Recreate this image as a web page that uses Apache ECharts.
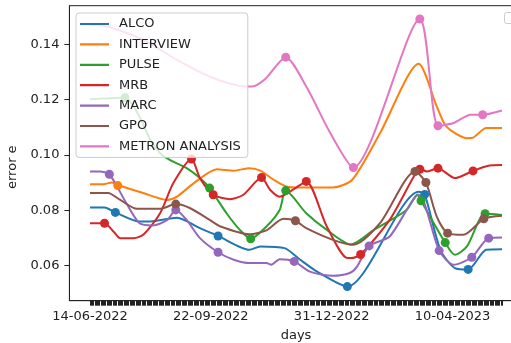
<!DOCTYPE html>
<html><head><meta charset="utf-8">
<script src="https://cdn.jsdelivr.net/npm/echarts@6/dist/echarts.min.js"></script>
<style>html,body{margin:0;padding:0;background:#fff}#c{width:511px;height:343px}</style>
</head><body><div id="c"></div>
<script>
// ---- data ----
const startDate = '2022-06-14';
const lastDay = 341;
const tickLabels = ['14-06-2022', '22-09-2022', '31-12-2022', '10-04-2023'];
const yTicks = [0.06, 0.08, 0.10, 0.12, 0.14];
const seriesNames = ['ALCO', 'INTERVIEW', 'PULSE', 'MRB', 'MARC', 'GPO', 'METRON ANALYSIS'];
const colors = ['#1f77b4', '#ff7f0e', '#2ca02c', '#d62728', '#9467bd', '#8c564b', '#e377c2'];

// [day since startDate, error e]
const alcoLine = [[0,0.0810],[12,0.0810],[21,0.0792],[41,0.0759],[50,0.0759],[72,0.0773],[91,0.0735],[106,0.0707],[132,0.0657],[141,0.0669],[161,0.0663],[174,0.0621],[188,0.0578],[213,0.0524],[272,0.0867],[277,0.0857],[290,0.0657],[302,0.0591],[313,0.0586],[328,0.0657],[341,0.0659]];
const alcoPts = [[21,0.0792],[106,0.0707],[213,0.0524],[277,0.0857],[313,0.0586]];

const interviewLine = [[0,0.0894],[11,0.0894],[18,0.0900],[23,0.0891],[44,0.0862],[64,0.0837],[72,0.0849],[86,0.0898],[105,0.0948],[119,0.0943],[132,0.0952],[141,0.0943],[152,0.0910],[163,0.0885],[174,0.0882],[201,0.0882],[217,0.0910],[240,0.1078],[272,0.1329],[287,0.1175],[295,0.1102],[312,0.1060],[317,0.1062],[328,0.1097],[341,0.1097]];
const interviewPts = [[23,0.0889]];

const pulseLine = [[0,0.1201],[17,0.1205],[29,0.1207],[41,0.1138],[50,0.1054],[58,0.1006],[66,0.0982],[80,0.0952],[91,0.0916],[99,0.0880],[113,0.0789],[124,0.0729],[133,0.0697],[146,0.0741],[157,0.0801],[162,0.0871],[179,0.0789],[196,0.0729],[216,0.0676],[235,0.0729],[262,0.0801],[271,0.0857],[274,0.0834],[294,0.0683],[302,0.0639],[312,0.0669],[327,0.0787],[341,0.0783]];
const pulsePts = [[29,0.1207],[99,0.0880],[133,0.0697],[162,0.0871],[274,0.0834],[294,0.0683],[327,0.0787]];

const mrbLine = [[0,0.0753],[12,0.0753],[20,0.0720],[25,0.0699],[36,0.0699],[44,0.0711],[58,0.0789],[69,0.0898],[84,0.0985],[91,0.0916],[102,0.0856],[116,0.0840],[127,0.0856],[142,0.0918],[149,0.0874],[157,0.0849],[168,0.0874],[179,0.0904],[196,0.0741],[213,0.0627],[216,0.0627],[224,0.0640],[248,0.0765],[268,0.0922],[273,0.0948],[279,0.0940],[288,0.0952],[302,0.0916],[317,0.0942],[329,0.0960],[341,0.0963]];
const mrbPts = [[12,0.0753],[84,0.0985],[102,0.0856],[142,0.0918],[179,0.0904],[224,0.0640],[273,0.0948],[288,0.0952],[317,0.0942]];

const marcLine = [[0,0.0940],[8,0.0940],[16,0.0930],[30,0.0826],[41,0.0753],[52,0.0745],[64,0.0765],[71,0.0801],[80,0.0765],[91,0.0699],[106,0.0648],[119,0.0621],[132,0.0609],[146,0.0609],[150,0.0603],[157,0.0623],[169,0.0615],[182,0.0578],[201,0.0563],[215,0.0573],[221,0.0596],[231,0.0671],[248,0.0705],[272,0.0856],[289,0.0654],[301,0.0603],[316,0.0630],[330,0.0699],[341,0.0701]];
const marcPts = [[16,0.0930],[71,0.0801],[106,0.0648],[169,0.0615],[231,0.0671],[289,0.0654],[316,0.0630],[330,0.0699]];

const gpoLine = [[0,0.0862],[15,0.0862],[25,0.0837],[39,0.0805],[58,0.0805],[71,0.0822],[83,0.0807],[99,0.0765],[108,0.0741],[132,0.0713],[146,0.0727],[160,0.0769],[170,0.0762],[179,0.0735],[201,0.0693],[218,0.0675],[240,0.0753],[269,0.0940],[278,0.0900],[287,0.0777],[296,0.0717],[309,0.0711],[326,0.0769],[341,0.0780]];
const gpoPts = [[71,0.0822],[170,0.0762],[269,0.0940],[278,0.0900],[296,0.0717],[326,0.0769]];

const metronLine = [[0,0.1470],[14,0.1464],[44,0.1416],[72,0.1343],[99,0.1283],[124,0.1249],[134,0.1247],[145,0.1274],[162,0.1353],[179,0.1247],[199,0.1078],[218,0.0954],[273,0.1491],[288,0.1105],[301,0.1115],[315,0.1145],[325,0.1145],[341,0.1160]];
const metronPts = [[162,0.1353],[218,0.0954],[273,0.1491],[288,0.1105],[325,0.1145]];

const lines = [alcoLine, interviewLine, pulseLine, mrbLine, marcLine, gpoLine, metronLine];
const points = [alcoPts, interviewPts, pulsePts, mrbPts, marcPts, gpoPts, metronPts];

// ---- build ----
const DAY = 86400000;
const t0 = Date.parse(startDate + 'T00:00:00Z');
function dayOf(lbl) { const p = lbl.split('-'); return Math.round((Date.parse(p[2] + '-' + p[1] + '-' + p[0] + 'T00:00:00Z') - t0) / DAY); }
const labelDays = tickLabels.map(dayOf);
const labelMap = {}; labelDays.forEach((d, i) => labelMap[d] = tickLabels[i]);
const allDays = []; for (let d = 0; d <= lastDay; d++) allDays.push(d);
const margin = lastDay * 0.05;
const FONT = 'DejaVu Sans';
const legendIcon = 'path://M0,0H29V2H0Z M34,0L34,2';

const series = [];
seriesNames.forEach((n, i) => {
  series.push({ name: n, type: 'line', data: lines[i], symbol: 'none', smooth: 0.25,
    lineStyle: { width: 2, color: colors[i] }, itemStyle: { color: colors[i] }, z: 2 + i * 0.01 });
});
seriesNames.forEach((n, i) => {
  series.push({ name: n + ' points', type: 'scatter', data: points[i], symbol: 'circle', symbolSize: 9,
    itemStyle: { color: colors[i], opacity: 1 }, z: 3 + i * 0.01 });
});

const chart = echarts.init(document.getElementById('c'), null, { renderer: 'canvas' });
chart.setOption({
  animation: false,
  backgroundColor: '#fff',
  grid: { left: 69.4, top: 5.7, width: 453.2, height: 295, containLabel: false, outerBoundsMode: 'none',
    show: true, borderColor: '#222', borderWidth: 1, backgroundColor: 'transparent' },
  legend: {
    data: seriesNames.map((n, i) => ({ name: n, icon: legendIcon, itemStyle: { color: colors[i] } })),
    orient: 'vertical', left: 76, top: 13,
    backgroundColor: 'rgba(255,255,255,0.8)', borderColor: '#ccc', borderWidth: 1, borderRadius: 3,
    padding: [4, 7, 4, 4], itemWidth: 34, itemHeight: 2.2, itemGap: 6.4, symbolKeepAspect: false,
    textStyle: { fontFamily: FONT, fontSize: 13, color: '#222', lineHeight: 14 },
    z: 10
  },
  xAxis: {
    type: 'value', min: -margin, max: lastDay + margin,
    name: 'days', nameLocation: 'middle', nameGap: 28,
    nameTextStyle: { fontFamily: FONT, fontSize: 13, color: '#222' },
    axisLine: { show: true, onZero: false, lineStyle: { color: '#222', width: 1 } },
    axisTick: { show: true, length: 5, customValues: allDays, lineStyle: { color: '#222', width: 1 } },
    axisLabel: { customValues: labelDays, margin: 9, fontFamily: FONT, fontSize: 13, color: '#222',
      formatter: v => labelMap[Math.round(v)] || '' },
    splitLine: { show: false }
  },
  yAxis: {
    type: 'value', min: 0.0473, max: 0.1539,
    name: 'error e', nameLocation: 'middle', nameGap: 44,
    nameTextStyle: { fontFamily: FONT, fontSize: 13, color: '#222', padding: [0, 28, 0, 0] },
    axisLine: { show: true, onZero: false, lineStyle: { color: '#222', width: 1 } },
    axisTick: { show: true, length: 5, customValues: yTicks, lineStyle: { color: '#222', width: 1 } },
    axisLabel: { customValues: yTicks, margin: 10, fontFamily: FONT, fontSize: 13, color: '#222',
      formatter: v => v.toFixed(2) },
    splitLine: { show: false }
  },
  graphic: [{ type: 'rect', left: 504, top: 12, shape: { width: 14, height: 11, r: 2 },
    style: { fill: 'rgba(255,255,255,0.8)', stroke: '#ccc', lineWidth: 1 }, z: 10 }],
  series: series
});
</script></body></html>
